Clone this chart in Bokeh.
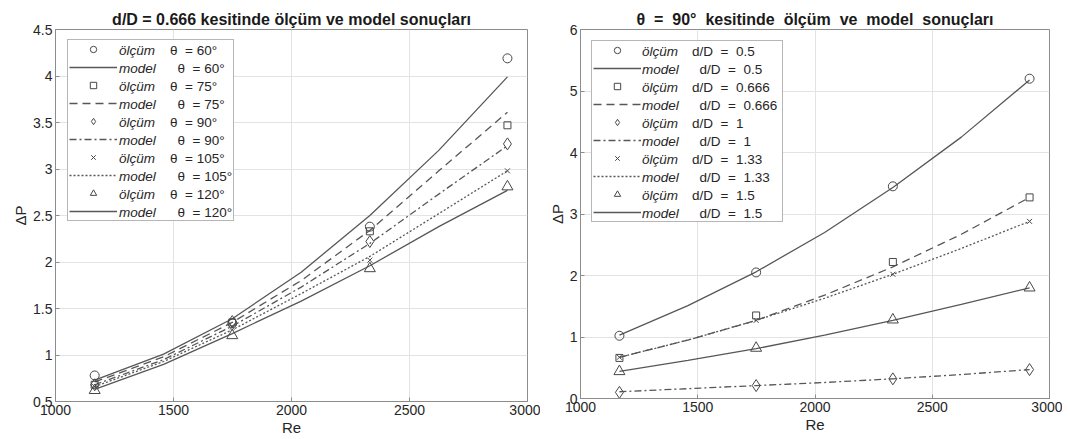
from bokeh.plotting import figure
from bokeh.models import Legend, LegendItem, FixedTicker, CustomJSTickFormatter, Range1d
from bokeh.layouts import row
from bokeh.embed import file_html
from bokeh.resources import INLINE

# ---------------- data ----------------
re_measured = [1166, 1749, 2332, 2915]
re_model = [1166, 1458, 1749, 2041, 2332, 2624, 2915]

# left panel: d/D = 0.666, various theta
theta_values = ["60°", "75°", "90°", "105°", "120°"]
olcum_theta_60 = [0.78, 1.34, 2.38, 4.19]
olcum_theta_75 = [0.68, 1.35, 2.33, 3.47]
olcum_theta_90 = [0.68, 1.36, 2.22, 3.27]
olcum_theta_105 = [0.66, 1.30, 2.02, 2.98]
olcum_theta_120 = [0.62, 1.21, 1.93, 2.81]
model_theta_60 = [0.73, 1.01, 1.39, 1.89, 2.50, 3.20, 3.99]
model_theta_75 = [0.71, 0.98, 1.35, 1.80, 2.34, 2.98, 3.61]
model_theta_90 = [0.68, 0.95, 1.31, 1.73, 2.20, 2.73, 3.25]
model_theta_105 = [0.66, 0.93, 1.27, 1.66, 2.06, 2.52, 2.98]
model_theta_120 = [0.63, 0.90, 1.23, 1.58, 1.96, 2.38, 2.77]

# right panel: theta = 90°, various d/D
dD_values = ["0.5", "0.666", "1", "1.33", "1.5"]
olcum_dD_05 = [1.02, 2.05, 3.45, 5.20]
olcum_dD_0666 = [0.66, 1.35, 2.22, 3.27]
olcum_dD_1 = [0.10, 0.21, 0.32, 0.47]
olcum_dD_133 = [0.67, 1.27, 2.02, 2.88]
olcum_dD_15 = [0.44, 0.82, 1.28, 1.80]
model_dD_05 = [1.03, 1.51, 2.06, 2.70, 3.43, 4.25, 5.18]
model_dD_0666 = [0.67, 0.95, 1.27, 1.68, 2.14, 2.67, 3.27]
model_dD_1 = [0.11, 0.16, 0.21, 0.26, 0.32, 0.39, 0.47]
model_dD_133 = [0.67, 0.95, 1.27, 1.63, 2.02, 2.44, 2.88]
model_dD_15 = [0.44, 0.62, 0.81, 1.03, 1.27, 1.53, 1.80]

x_ticks = [1000, 1500, 2000, 2500, 3000]
left_y_ticks = [0.5, 1, 1.5, 2, 2.5, 3, 3.5, 4, 4.5]
right_y_ticks = [0, 1, 2, 3, 4, 5, 6]

# ---------------- styles ----------------
FONT = "Liberation Sans"
LINE_COLOR = "#575757"
MARK_COLOR = "#474747"
markers = ["circle", "square", "diamond", "x", "triangle"]
msizes = [9, 7, 12, 7, 11]
dashes = ["solid", "8 5", "7 3 2 3", "2 2", "solid"]
NB = "\u00a0"
LEG_FONT_SIZE = "13.5px"


def make_fig(title, y0, y1, yticks, frame_w, frame_h, top, left, right):
    p = figure(frame_width=frame_w, frame_height=frame_h,
               x_range=Range1d(1000, 3000), y_range=Range1d(y0, y1),
               output_backend="svg", toolbar_location=None,
               min_border_left=left, min_border_right=right,
               min_border_top=top, min_border_bottom=40,
               title=title)
    p.title.text_font = FONT
    p.title.text_font_size = "16px"
    p.title.text_font_style = "bold"
    p.title.align = "center"
    p.title.text_color = "#1a1a1a"
    p.title.standoff = 3
    p.xaxis.ticker = FixedTicker(ticks=x_ticks)
    p.yaxis.ticker = FixedTicker(ticks=yticks)
    fmt = "return String(tick);"
    p.xaxis.formatter = CustomJSTickFormatter(code=fmt)
    p.yaxis.formatter = CustomJSTickFormatter(code=fmt)
    p.xaxis.axis_label = "Re"
    p.yaxis.axis_label = "ΔP"
    for ax in (p.xaxis[0], p.yaxis[0]):
        ax.axis_label_text_font = FONT
        ax.axis_label_text_font_size = "15px"
        ax.axis_label_text_font_style = "normal"
        ax.axis_label_text_color = "#262626"
        ax.axis_label_standoff = 1
        ax.major_label_text_font = FONT
        ax.major_label_text_font_size = "14px"
        ax.major_label_text_color = "#262626"
        ax.major_label_standoff = 3
        ax.axis_line_color = "#8c8c8c"
        ax.major_tick_line_color = "#8c8c8c"
        ax.major_tick_in = 4
        ax.major_tick_out = 0
        ax.minor_tick_line_color = None
    p.outline_line_color = "#8c8c8c"
    p.outline_line_width = 1
    p.grid.grid_line_color = "#e3e3e3"
    p.background_fill_color = "white"
    p.border_fill_color = "white"
    return p


def draw_panel(p, meas_list, model_list, labels, prefix, gap_after):
    items_glyph = []
    items_word = []
    items_value = []
    ghost = p.scatter(x=[], y=[], size=1, alpha=0)
    for i in range(5):
        ln = p.line(re_model, model_list[i], line_color=LINE_COLOR, line_width=1.3,
                    line_dash=dashes[i])
        sc = p.scatter(re_measured, meas_list[i], marker=markers[i], size=msizes[i],
                       line_color=MARK_COLOR, line_width=1, fill_alpha=0)
        items_glyph.append(LegendItem(label=NB, renderers=[sc]))
        items_glyph.append(LegendItem(label=NB, renderers=[ln]))
        items_word.append(LegendItem(label="ölçüm", renderers=[ghost]))
        items_word.append(LegendItem(label="model", renderers=[ghost]))
        txt = prefix + NB + NB + "=" + NB * gap_after + labels[i]
        items_value.append(LegendItem(label=txt, renderers=[ghost]))
        items_value.append(LegendItem(label=NB + NB + txt, renderers=[ghost]))
    return items_glyph, items_word, items_value


def add_legends(p, items_glyph, items_word, items_value, gx, y, lw, wx, vx):
    common = dict(glyph_height=16, label_height=16, padding=1, spacing=2, margin=0,
                  label_text_font=FONT, label_text_font_size=LEG_FONT_SIZE,
                  label_text_color="#262626")
    leg_g = Legend(items=items_glyph, location=(gx, y), glyph_width=48,
                   label_width=lw, label_standoff=0,
                   border_line_color="#6e6e6e", border_line_width=1,
                   background_fill_color="white", background_fill_alpha=1,
                   **common)
    leg_w = Legend(items=items_word, location=(wx, y), glyph_width=0,
                   label_width=20, label_standoff=0,
                   border_line_alpha=0, background_fill_alpha=0,
                   label_text_font_style="italic", **common)
    leg_v = Legend(items=items_value, location=(vx, y), glyph_width=0,
                   label_width=20, label_standoff=0,
                   border_line_alpha=0, background_fill_alpha=0,
                   label_text_font_style="normal", **common)
    p.add_layout(leg_g, "center")
    p.add_layout(leg_w, "center")
    p.add_layout(leg_v, "center")


# ---------------- left panel ----------------
p1 = make_fig("d/D = 0.666 kesitinde ölçüm ve model sonuçları", 0.5, 4.5, left_y_ticks,
              472, 372, 26, 55, 13)
g1, w1, v1 = draw_panel(p1,
                        [olcum_theta_60, olcum_theta_75, olcum_theta_90, olcum_theta_105, olcum_theta_120],
                        [model_theta_60, model_theta_75, model_theta_90, model_theta_105, model_theta_120],
                        theta_values, "θ", 1)
add_legends(p1, g1, w1, v1, 12, 180, 115, 63, 114)

# ---------------- right panel ----------------
sp = " " + NB
title2 = sp.join(["θ", "=", "90°", "kesitinde", "ölçüm", "ve", "model", "sonuçları"])
p2 = make_fig(title2, 0, 6, right_y_ticks, 469, 369, 29, 40, 13)
g2, w2, v2 = draw_panel(p2,
                        [olcum_dD_05, olcum_dD_0666, olcum_dD_1, olcum_dD_133, olcum_dD_15],
                        [model_dD_05, model_dD_0666, model_dD_1, model_dD_133, model_dD_15],
                        dD_values, "d/D", 2)
add_legends(p2, g2, w2, v2, 11, 176, 140, 61, 111)

layout = row(p1, p2)
open("out.html", "w").write(file_html(layout, INLINE))
